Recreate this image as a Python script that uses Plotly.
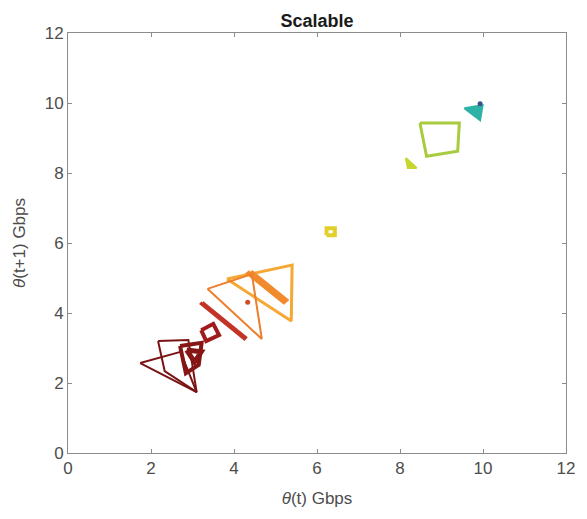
import plotly.graph_objects as go

# Phase-space loops: throughput at step t versus step t+1 (Gbps)
dark_a_t = [1.74, 2.71, 3.10, 1.74]
dark_a_t1 = [2.57, 2.89, 1.74, 2.57]

dark_b_t = [2.17, 2.90, 3.10, 2.33, 2.17]
dark_b_t1 = [3.20, 3.23, 1.74, 2.34, 3.20]

dark_c_t = [2.70, 3.22, 3.15, 2.84, 2.70]
dark_c_t1 = [3.06, 3.15, 2.52, 2.28, 3.06]

dark_d_t = [2.86, 3.21, 3.05, 2.86]
dark_d_t1 = [2.94, 2.89, 2.60, 2.94]

square_t = [3.21, 3.50, 3.64, 3.33, 3.21]
square_t1 = [3.51, 3.69, 3.37, 3.20, 3.51]

red_bar_t = [3.24, 4.28, 4.25, 3.21, 3.24]
red_bar_t1 = [4.30, 3.30, 3.26, 4.26, 4.30]

orange_t = [3.36, 4.43, 4.67, 3.36]
orange_t1 = [4.69, 5.11, 3.26, 4.69]

amber_t = [3.83, 5.40, 5.38, 3.83]
amber_t1 = [4.97, 5.37, 3.77, 4.97]

amber_bar_t = [4.40, 5.24, 5.20, 4.36, 4.40]
amber_bar_t1 = [5.17, 4.37, 4.33, 5.13, 5.17]

red_dot_t = [4.33]
red_dot_t1 = [4.31]

yellow_t = [6.23, 6.43, 6.43, 6.23, 6.23]
yellow_t1 = [6.22, 6.22, 6.42, 6.42, 6.22]

lime_t = [8.14, 8.40, 8.19, 8.14]
lime_t1 = [8.43, 8.14, 8.14, 8.43]

green_t = [8.48, 9.43, 9.39, 8.64, 8.48]
green_t1 = [9.43, 9.43, 8.62, 8.48, 9.43]

teal_t = [9.55, 9.99, 9.93, 9.55]
teal_t1 = [9.85, 9.94, 9.51, 9.85]

navy_t = [9.93]
navy_t1 = [9.98]

# (x, y, colour, line width, filled)
loops = [
    (lime_t, lime_t1, "#c8d52e", 2, True),
    (green_t, green_t1, "#a8cc3e", 3, False),
    (teal_t, teal_t1, "#2eb2a5", 2, True),
    (yellow_t, yellow_t1, "#e2cf2b", 4, False),
    (amber_t, amber_t1, "#f6a834", 3, False),
    (amber_bar_t, amber_bar_t1, "#f08a2c", 5, False),
    (orange_t, orange_t1, "#ef7d2b", 2, False),
    (red_bar_t, red_bar_t1, "#c23526", 3, False),
    (square_t, square_t1, "#a01b1b", 4, False),
    (dark_a_t, dark_a_t1, "#7a1414", 2, False),
    (dark_b_t, dark_b_t1, "#7a1414", 2, False),
    (dark_c_t, dark_c_t1, "#861515", 4, False),
    (dark_d_t, dark_d_t1, "#861515", 5, False),
]

fig = go.Figure()
for xs, ys, col, w, filled in loops:
    fig.add_trace(go.Scatter(x=xs, y=ys, mode="lines",
                             line=dict(color=col, width=w),
                             fill="toself" if filled else None,
                             fillcolor=col if filled else None,
                             showlegend=False, hoverinfo="skip"))

for xs, ys, col in [(red_dot_t, red_dot_t1, "#cf4b28"), (navy_t, navy_t1, "#3d4f8c")]:
    fig.add_trace(go.Scatter(x=xs, y=ys, mode="markers",
                             marker=dict(color=col, size=5),
                             showlegend=False, hoverinfo="skip"))

text_font = dict(family="Liberation Sans", size=17, color="#4d4d4d")

axis_common = dict(
    range=[0, 12], tickvals=[0, 2, 4, 6, 8, 10, 12],
    ticks="inside", ticklen=4, tickcolor="#8c8c8c",
    showline=True, linecolor="#8c8c8c", linewidth=1, mirror="ticks",
    showgrid=False, zeroline=False,
    tickfont=text_font,
)

fig.update_layout(
    width=587, height=519,
    margin=dict(l=68, r=14, t=33, b=66),
    paper_bgcolor="white", plot_bgcolor="white",
    title=dict(text="<b>Scalable</b>", x=0.5, xref="paper",
               y=1 - 21 / 519, yanchor="middle",
               font=dict(family="Liberation Sans", size=18, color="#1a1a1a")),
    xaxis=dict(**axis_common,
               title=dict(text="<i>θ</i>(t) Gbps", standoff=14, font=text_font)),
    yaxis=dict(**axis_common,
               title=dict(text="<i>θ</i>(t+1) Gbps", standoff=14, font=text_font)),
)

fig.write_html("out.html")
